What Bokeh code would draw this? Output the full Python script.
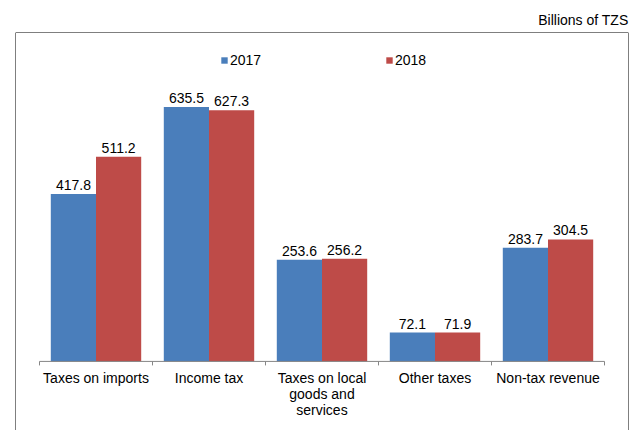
from bokeh.plotting import figure
from bokeh.models import FactorRange, Range1d, ColumnDataSource, Legend, LegendItem, Span
from bokeh.transform import dodge
from bokeh.core.properties import value
from bokeh.embed import file_html
from bokeh.resources import INLINE

categories = ["Taxes on imports", "Income tax", "Taxes on local goods and services",
              "Other taxes", "Non-tax revenue"]
tick_labels = ["Taxes on imports", "Income tax", "Taxes on local\ngoods and\nservices",
               "Other taxes", "Non-tax revenue"]
series_names = ["2017", "2018"]
values_2017 = [417.8, 635.5, 253.6, 72.1, 283.7]
values_2018 = [511.2, 627.3, 256.2, 71.9, 304.5]
unit_label = "Billions of TZS"

FONT = "Liberation Sans"
BLUE = "#4A7EBB"
RED = "#BE4B48"
AXIS = "#868686"
PAD = 24 / 113
Y0, Y1 = -172.5, 821.25

src = ColumnDataSource(dict(
    cat=categories, tick=tick_labels,
    v17=values_2017, v18=values_2018,
    l17=[f"{v:.1f}" for v in values_2017],
    l18=[f"{v:.1f}" for v in values_2018],
))

p = figure(width=639, height=430, output_backend="svg", toolbar_location=None,
           x_range=FactorRange(factors=categories, range_padding=PAD,
                               range_padding_units="absolute"),
           y_range=Range1d(Y0, Y1),
           min_border_left=15, min_border_right=11, min_border_top=32,
           min_border_bottom=0)
p.xaxis.visible = False
p.yaxis.visible = False
p.xgrid.visible = False
p.ygrid.visible = False
p.outline_line_color = None
p.background_fill_color = "white"
p.border_fill_color = "white"

# box round the chart: left, right and top only
for loc, dim in [(-PAD, "height"), (len(categories) + PAD, "height"), (Y1, "width")]:
    p.add_layout(Span(location=loc, dimension=dim, line_color="black", line_width=1))

p.title.text = unit_label
p.title.align = "right"
p.title.text_font = FONT
p.title.text_font_size = "14px"
p.title.text_font_style = "normal"
p.title.text_color = "black"
p.title.standoff = 9

r17 = p.vbar(x=dodge("cat", -0.2, range=p.x_range), top="v17", width=0.4, source=src,
             fill_color=BLUE, line_color=None)
r18 = p.vbar(x=dodge("cat", 0.2, range=p.x_range), top="v18", width=0.4, source=src,
             fill_color=RED, line_color=None)

# axis line and boundary ticks
p.segment(x0=dodge("x0", -0.5, range=p.x_range), x1=dodge("x1", 0.5, range=p.x_range),
          y0=0, y1=0, source=ColumnDataSource(dict(x0=[categories[0]], x1=[categories[-1]])),
          line_color=AXIS, line_width=1)
p.segment(x0=dodge("cat", -0.5, range=p.x_range), x1=dodge("cat", -0.5, range=p.x_range),
          y0=0, y1=-10, source=src, line_color=AXIS, line_width=1)
p.segment(x0=dodge("c", 0.5, range=p.x_range), x1=dodge("c", 0.5, range=p.x_range),
          y0=0, y1=-10, source=ColumnDataSource(dict(c=[categories[-1]])),
          line_color=AXIS, line_width=1)

# category labels
p.text(x="cat", y=-22.5, text="tick", source=src, text_font=value(FONT),
       text_font_size="14px", text_align="center", text_baseline="top",
       text_line_height=0.98, text_color="black")

# value labels
p.text(x=dodge("cat", -0.2, range=p.x_range), y="v17", text="l17", source=src,
       text_font=value(FONT), text_font_size="14px", text_align="center",
       text_baseline="alphabetic", y_offset=-9, text_color="black")
p.text(x=dodge("cat", 0.2, range=p.x_range), y="v18", text="l18", source=src,
       text_font=value(FONT), text_font_size="14px", text_align="center",
       text_baseline="alphabetic", y_offset=-9, text_color="black")

legend = Legend(items=[LegendItem(label=series_names[0], renderers=[r17]),
                       LegendItem(label=series_names[1], renderers=[r18])],
                orientation="horizontal", location=(205, 362),
                glyph_width=8, glyph_height=8, label_standoff=2, label_width=32,
                label_height=16, spacing=123, padding=0, margin=0,
                border_line_color=None, background_fill_alpha=0,
                label_text_font=FONT, label_text_font_size="14px",
                label_text_color="black")
p.add_layout(legend)

open("out.html", "w").write(file_html(p, INLINE))
